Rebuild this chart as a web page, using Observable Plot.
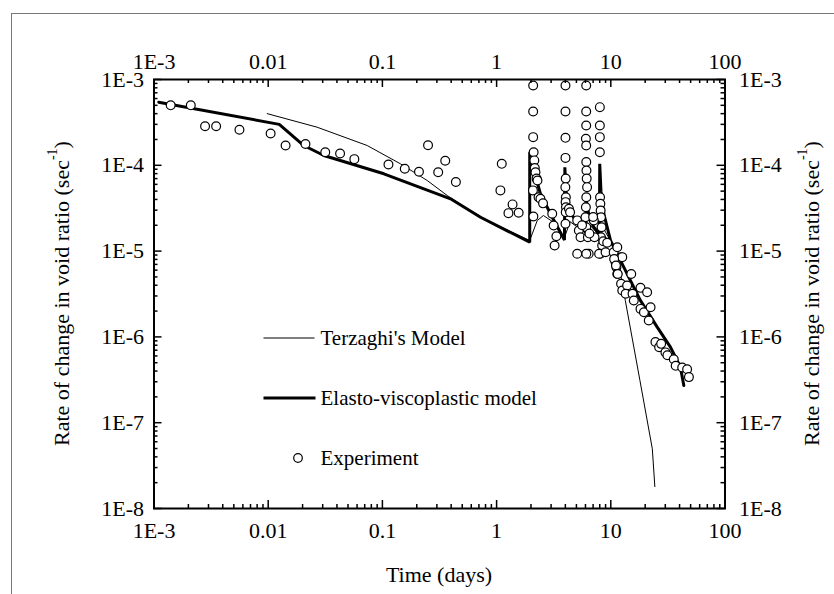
<!DOCTYPE html>
<html><head><meta charset="utf-8">
<script src="https://cdn.jsdelivr.net/npm/d3@7"></script>
<script src="https://cdn.jsdelivr.net/npm/@observablehq/plot@0.6"></script>
<style>
html,body{margin:0;padding:0;background:#fff;}
#wrap{position:relative;width:834px;height:594px;overflow:hidden;}
#border{position:absolute;left:11px;top:13px;width:900px;height:700px;border-left:1px solid #777;border-top:1px solid #777;pointer-events:none;}
</style></head><body><div id="wrap"><div id="border"></div></div>
<script>
// ---- tick values & labels ----
const xTicks = [1e-3, 1e-2, 1e-1, 1, 10, 100];
const xTickLabels = ["1E-3", "0.01", "0.1", "1", "10", "100"];
const yTicks = [1e-3, 1e-4, 1e-5, 1e-6, 1e-7, 1e-8];
const yTickLabels = ["1E-3", "1E-4", "1E-5", "1E-6", "1E-7", "1E-8"];
const xTitle = "Time (days)";
const yTitleMain = "Rate of change in void ratio (sec";
const yTitleSup = "-1";
const legendLabels = ["Terzaghi's Model", "Elasto-viscoplastic model", "Experiment"];

// ---- Terzaghi's model (thin line) ----
const terT = [0.0098,0.0268,0.0736,0.144,0.247,0.369,0.553,0.885,1.95,2.27,2.57,3.1,3.9,4.4,5.4,6.1,6.6,8.0,8.7,10.0,11.2,13.4,18.0,23.1,24.3];
const terR = [4.0e-4,2.78e-4,1.70e-4,1.04e-4,6.65e-5,4.45e-5,3.11e-5,2.17e-5,1.33e-5,2.27e-5,2.6e-5,2.2e-5,1.4e-5,2.2e-5,1.8e-5,1.6e-5,2.0e-5,1.5e-5,1.8e-5,1.3e-5,1.0e-5,2.65e-6,3.1e-7,4.96e-8,1.8e-8];

// ---- Elasto-viscoplastic model (thick line) ----
const evpT = [0.0011,0.0125,0.0205,0.0307,0.103,0.395,0.723,1.95,1.95,2.12,2.42,3.07,3.93,3.96,4.05,4.29,5.43,6.05,6.08,6.5,7.1,7.95,8.0,8.2,8.69,9.94,13.9,18.2,25.5,33.3,40.7,43.6];
const evpR = [5.44e-4,3.0e-4,1.70e-4,1.3e-4,7.96e-5,4.07e-5,2.48e-5,1.27e-5,1.42e-4,8.7e-5,4.66e-5,2.48e-5,1.35e-5,9.5e-5,5.0e-5,2.97e-5,1.9e-5,1.66e-5,4.0e-5,2.4e-5,1.9e-5,1.59e-5,1.04e-4,5.0e-5,2.72e-5,1.33e-5,5.43e-6,2.65e-6,1.3e-6,7.6e-7,4.44e-7,2.71e-7];

// ---- Experiment (circles) ----
const expT = [
  0.0014,0.0021,0.0028,0.0035,0.0056,0.0105,0.0142,0.0212,0.0316,0.0426,0.0568,0.113,0.157,0.209,0.251,0.308,0.355,0.44,1.11,1.08,1.38,1.27,1.56,
  2.09,2.09,2.09,2.11,2.14,2.16,2.19,2.24,2.28,2.08,2.33,2.10,2.42,3.07,3.16,3.34,3.22,2.55,
  4.01,4.01,4.01,4.01,4.03,4.0,4.04,4.02,4.05,4.03,4.01,4.3,4.4,5.08,5.25,5.08,5.43,
  6.09,6.09,6.09,6.05,6.09,6.1,6.12,6.15,6.2,6.1,6.05,6.0,6.1,6.3,
  8.02,8.02,8.02,8.02,8.05,8.1,8.15,8.2,8.3,8.2,8.4,8.1,
  7.1,7.2,6.4,7.9,9.0,10.6,11.4,12.3,11.0,11.2,11.4,15.1,5.6,6.5,7.0,8.6,9.3,6.1,
  12.6,10.7,11.1,11.5,12.3,12.6,13.9,13.5,15.5,15.9,18.2,20.8,18.2,19.5,22.3,21.5,24.6,26.5,27.6,30.1,31.3,35.6,37.0,42.2,46.6,48.3
];
const expR = [
  5.0e-4,5.0e-4,2.85e-4,2.85e-4,2.6e-4,2.35e-4,1.7e-4,1.77e-4,1.42e-4,1.37e-4,1.18e-4,1.02e-4,9.1e-5,8.4e-5,1.71e-4,8.3e-5,1.13e-4,6.4e-5,1.04e-4,5.1e-5,3.5e-5,2.77e-5,2.8e-5,
  8.5e-4,4.24e-4,2.13e-4,1.42e-4,1.14e-4,9.3e-5,8.3e-5,7.0e-5,6.65e-5,5.1e-5,4.25e-5,2.53e-5,4.07e-5,2.72e-5,1.99e-5,1.49e-5,1.16e-5,3.6e-5,
  8.5e-4,4.24e-4,2.09e-4,1.22e-4,7.0e-5,5.56e-5,4.25e-5,3.72e-5,3.25e-5,2.84e-5,2.08e-5,3.11e-5,2.84e-5,2.28e-5,1.74e-5,9.3e-6,1.45e-5,
  8.5e-4,4.24e-4,2.91e-4,2.04e-4,1.70e-4,1.09e-4,8.7e-5,7.0e-5,5.56e-5,4.25e-5,3.25e-5,2.48e-5,1.9e-5,1.45e-5,
  4.76e-4,2.91e-4,2.13e-4,1.42e-4,4.25e-5,3.56e-5,2.97e-5,2.48e-5,1.9e-5,1.45e-5,1.16e-5,9.3e-6,
  2.28e-5,1.45e-5,9.3e-6,9.3e-6,9.7e-6,9.7e-6,1.11e-5,8.5e-6,7.4e-6,6.5e-6,5.4e-6,5.4e-6,2.0e-5,1.6e-5,2.5e-5,1.3e-5,1.25e-5,9.3e-6,
  8.5e-6,8.1e-6,6.8e-6,5.4e-6,4.16e-6,3.47e-6,3.97e-6,3.18e-6,3.18e-6,2.66e-6,3.73e-6,3.32e-6,2.12e-6,1.94e-6,2.22e-6,1.55e-6,8.7e-7,7.6e-7,8.3e-7,6.6e-7,6.1e-7,5.5e-7,4.6e-7,4.4e-7,4.2e-7,3.4e-7
];

// ---- build tables ----
const ter = terT.map((t, i) => ({t, r: terR[i]}));
const evp = evpT.map((t, i) => ({t, r: evpR[i]}));
const exp = expT.map((t, i) => ({t, r: expR[i]}));
const minorOf = (majors) => majors.slice(0, -1).flatMap(m => [2,3,4,5,6,7,8,9].map(k => m * k));
const xMinor = minorOf(xTicks);
const yMinor = minorOf([...yTicks].reverse());
const xLab = new Map(xTicks.map((v, i) => [v, xTickLabels[i]]));
const yLab = new Map(yTicks.map((v, i) => [v, yTickLabels[i]]));

const FONT = "'Liberation Serif', 'Times New Roman', serif";
const W = 834, H = 594;
const mL = 153.5, mR = 834 - 724.5, mT = 79, mB = 594 - 508;
const pW = W - mL - mR, pH = H - mT - mB;
const MAJ = 8, MIN = 4;

function annotations(index, scales, values, dims) {
  const {width, height, marginLeft, marginTop, marginRight, marginBottom} = dims;
  const fl = marginLeft, ft = marginTop, fr = width - marginRight, fb = height - marginBottom;
  const cy = (ft + fb) / 2;
  const g = d3.create("svg:g").attr("font-family", FONT).attr("fill", "#000");
  // axis titles
  g.append("text").attr("x", (fl + fr) / 2).attr("y", fb + 66).attr("text-anchor", "middle")
    .attr("dominant-baseline", "central").attr("font-size", 22).text(xTitle);
  for (const x of [fl - 93, fr + 86]) {
    const t = g.append("text").attr("transform", `translate(${x},${cy}) rotate(-90)`)
      .attr("text-anchor", "middle").attr("dominant-baseline", "central").attr("font-size", 22);
    t.append("tspan").text(yTitleMain);
    t.append("tspan").attr("dy", -9).attr("font-size", 14).text(yTitleSup);
    t.append("tspan").attr("dy", 9).text(")");
  }
  // legend
  const lx0 = fl + 110, lx1 = fl + 161, tx = fl + 167;
  const rows = [ft + 259, ft + 319, ft + 379];
  g.append("line").attr("x1", lx0).attr("x2", lx1).attr("y1", rows[0]).attr("y2", rows[0]).attr("stroke", "#000").attr("stroke-width", 1);
  g.append("line").attr("x1", lx0).attr("x2", lx1 + 1).attr("y1", rows[1]).attr("y2", rows[1]).attr("stroke", "#000").attr("stroke-width", 3);
  g.append("circle").attr("cx", (lx0 + lx1) / 2 + 9).attr("cy", rows[2]).attr("r", 4.3).attr("fill", "#fff").attr("stroke", "#000").attr("stroke-width", 1.2);
  legendLabels.forEach((s, i) => {
    g.append("text").attr("x", tx).attr("y", rows[i]).attr("text-anchor", "start")
      .attr("dominant-baseline", "central").attr("font-size", 21).text(s);
  });
  return g.node();
}

const chart = Plot.plot({
  width: W, height: H,
  marginLeft: mL, marginRight: mR, marginTop: mT, marginBottom: mB,
  x: {type: "log", domain: [1e-3, 100]},
  y: {type: "log", domain: [1e-8, 1e-3]},
  style: {fontFamily: FONT, fontSize: "22px", color: "#000", background: "transparent"},
  marks: [
    Plot.line(ter, {x: "t", y: "r", stroke: "#000", strokeWidth: 1}),
    Plot.line(evp, {x: "t", y: "r", stroke: "#000", strokeWidth: 3, strokeLinejoin: "miter"}),
    Plot.dot(exp, {x: "t", y: "r", r: 4.4, stroke: "#000", fill: "#fff", strokeWidth: 1.2}),
    // inward ticks
    Plot.tickX(xTicks, {x: d => d, insetTop: pH - MAJ, strokeWidth: 1.5}),
    Plot.tickX(xMinor, {x: d => d, insetTop: pH - MIN, strokeWidth: 1.5}),
    Plot.tickX(xTicks, {x: d => d, insetBottom: pH - MAJ, strokeWidth: 1.5}),
    Plot.tickX(xMinor, {x: d => d, insetBottom: pH - MIN, strokeWidth: 1.5}),
    Plot.tickY(yTicks, {y: d => d, insetRight: pW - MAJ, strokeWidth: 1.5}),
    Plot.tickY(yMinor, {y: d => d, insetRight: pW - MIN, strokeWidth: 1.5}),
    Plot.tickY(yTicks, {y: d => d, insetLeft: pW - MAJ, strokeWidth: 1.5}),
    Plot.tickY(yMinor, {y: d => d, insetLeft: pW - MIN, strokeWidth: 1.5}),
    Plot.frame({stroke: "#000", strokeWidth: 2}),
    // labels
    Plot.axisX(xTicks, {anchor: "bottom", tickSize: 0, tickPadding: 14, tickFormat: d => xLab.get(d), fontSize: 22, label: null}),
    Plot.axisX(xTicks, {anchor: "top", tickSize: 0, tickPadding: 11, tickFormat: d => xLab.get(d), fontSize: 22, label: null}),
    Plot.axisY(yTicks, {anchor: "left", tickSize: 0, tickPadding: 10, tickFormat: d => yLab.get(d), fontSize: 22, label: null}),
    Plot.axisY(yTicks, {anchor: "right", tickSize: 0, tickPadding: 14, tickFormat: d => yLab.get(d), fontSize: 22, label: null}),
    annotations
  ]
});
document.getElementById("wrap").appendChild(chart);
</script>
</body></html>
